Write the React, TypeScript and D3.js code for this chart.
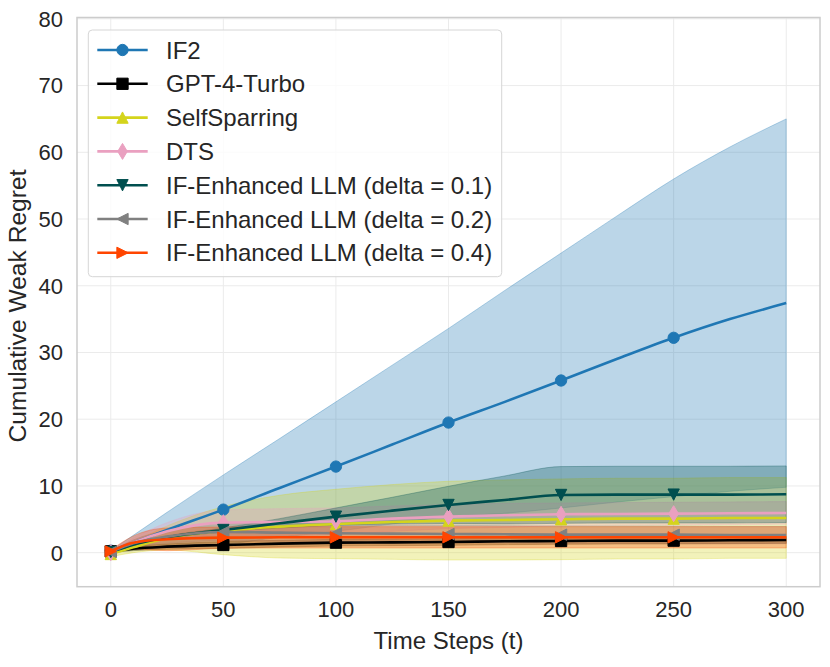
import * as d3 from "d3";

const STEPS = [0, 10, 25, 50, 75, 100, 125, 150, 175, 200, 225, 250, 275, 300];
const MARKER_STEPS = [0, 50, 100, 150, 200, 250];
const X_TICKS = [0, 50, 100, 150, 200, 250, 300];
const Y_TICKS = [0, 10, 20, 30, 40, 50, 60, 70, 80];

const IF2_MEAN = [0.3, 1.5, 3.4, 6.45, 9.7, 12.9, 16.2, 19.5, 22.6, 25.8, 29.05, 32.2, 35.0, 37.4];
const IF2_SD = [0, 1.1, 2.65, 5.2, 7.4, 9.7, 11.9, 14.1, 16.7, 19.1, 21.45, 23.8, 25.8, 27.6];

const GPT_MEAN = [0.2, 0.6, 0.9, 1.15, 1.35, 1.5, 1.55, 1.6, 1.7, 1.75, 1.8, 1.8, 1.85, 1.9];
const GPT_SD = [0.2, 0.3, 0.4, 0.5, 0.5, 0.5, 0.5, 0.5, 0.5, 0.5, 0.5, 0.5, 0.5, 0.5];

const SPARRING_MEAN = [-0.2, 0.8, 2.2, 3.3, 3.9, 4.3, 4.6, 4.8, 4.9, 5.0, 5.1, 5.1, 5.2, 5.2];
const SPARRING_SD = [0.4, 0.8, 1.8, 3.6, 4.7, 5.2, 5.6, 5.9, 6.0, 6.05, 6.05, 6.05, 6.05, 6.05];

const DTS_MEAN = [0.0, 1.5, 3.2, 4.5, 4.6, 4.7, 5.1, 5.4, 5.6, 5.75, 5.8, 5.85, 5.9, 5.95];
const DTS_SD = [0.3, 0.7, 1.3, 1.9, 2.0, 2.0, 1.9, 1.8, 1.8, 1.7, 1.7, 1.7, 1.7, 1.7];

const D01_MEAN = [0.1, 1.2, 2.3, 3.4, 4.4, 5.4, 6.3, 7.15, 7.9, 8.65, 8.7, 8.7, 8.7, 8.75];
const D01_SD = [0, 0.1, 0.2, 0.3, 0.7, 1.3, 2.0, 2.8, 3.6, 4.25, 4.25, 4.25, 4.25, 4.25];

const D02_MEAN = [0.1, 1.4, 2.4, 3.1, 3.0, 2.9, 2.85, 2.8, 2.75, 2.7, 2.7, 2.7, 2.65, 2.65];
const D02_SD = [0.1, 0.5, 1.0, 1.3, 1.3, 1.3, 1.3, 1.3, 1.3, 1.3, 1.3, 1.3, 1.3, 1.3];

const D04_MEAN = [0.2, 1.5, 2.0, 2.25, 2.3, 2.3, 2.3, 2.3, 2.3, 2.3, 2.3, 2.3, 2.3, 2.3];
const D04_SD = [0.2, 1.0, 1.7, 1.6, 1.6, 1.6, 1.6, 1.6, 1.6, 1.6, 1.6, 1.6, 1.6, 1.6];

type Marker = "circle" | "square" | "up" | "thinDiamond" | "down" | "left" | "right";

const SERIES = [
  { name: "IF2", color: "#1f77b4", mean: IF2_MEAN, sd: IF2_SD, marker: "circle" as Marker },
  { name: "GPT-4-Turbo", color: "#000000", mean: GPT_MEAN, sd: GPT_SD, marker: "square" as Marker },
  { name: "SelfSparring", color: "#d4d41c", mean: SPARRING_MEAN, sd: SPARRING_SD, marker: "up" as Marker },
  { name: "DTS", color: "#eaa0c0", mean: DTS_MEAN, sd: DTS_SD, marker: "thinDiamond" as Marker },
  { name: "IF-Enhanced LLM (delta = 0.1)", color: "#004f4f", mean: D01_MEAN, sd: D01_SD, marker: "down" as Marker },
  { name: "IF-Enhanced LLM (delta = 0.2)", color: "#808080", mean: D02_MEAN, sd: D02_SD, marker: "left" as Marker },
  { name: "IF-Enhanced LLM (delta = 0.4)", color: "#ff4500", mean: D04_MEAN, sd: D04_SD, marker: "right" as Marker },
];

const W = 830;
const H = 667;
const PLOT = { left: 77, right: 820, top: 17.5, bottom: 586.7 };
const FONT = "'Liberation Sans', Arial, Helvetica, sans-serif";
const TEXT = "#262626";
const MS = 11.3; // marker size in px

function markerPath(kind: Marker, s: number) {
  const h = s / 2;
  switch (kind) {
    case "circle":
      return d3.symbol(d3.symbolCircle, Math.PI * h * h)() as string;
    case "square":
      return `M${-h},${-h}H${h}V${h}H${-h}Z`;
    case "up":
      return `M0,${-h}L${h},${h}L${-h},${h}Z`;
    case "down":
      return `M0,${h}L${h},${-h}L${-h},${-h}Z`;
    case "left":
      return `M${-h},0L${h},${-h}L${h},${h}Z`;
    case "right":
      return `M${h},0L${-h},${-h}L${-h},${h}Z`;
    case "thinDiamond": {
      const d = (s * Math.SQRT2) / 2;
      const w = 0.6 * d;
      return `M0,${-d}L${w},0L0,${d}L${-w},0Z`;
    }
  }
}

export default function App() {
  const x = d3.scaleLinear().domain([-15, 315]).range([PLOT.left, PLOT.right]);
  const y = d3.scaleLinear().domain([-5.1, 80.2]).range([PLOT.bottom, PLOT.top]);

  const line = d3
    .line<number>()
    .x((_, i) => x(STEPS[i]))
    .y((d) => y(d))
    .curve(d3.curveMonotoneX);

  const band = (mean: number[], sd: number[]) =>
    d3
      .area<number>()
      .x((_, i) => x(STEPS[i]))
      .y0((d, i) => y(d - sd[i]))
      .y1((d, i) => y(d + sd[i]))
      .curve(d3.curveMonotoneX)(mean) as string;

  const legend = { x: 88.3, y: 30, w: 413.4, h: 246.7, row0: 50, rowH: 33.8 };

  return (
    <svg
      width={W}
      height={H}
      style={{ position: "absolute", left: 0, top: 0, background: "#fff" }}
      fontFamily={FONT}
    >
      <defs>
        <clipPath id="plot-clip">
          <rect x={PLOT.left} y={PLOT.top} width={PLOT.right - PLOT.left} height={PLOT.bottom - PLOT.top} />
        </clipPath>
      </defs>

      {/* grid */}
      <g stroke="#ebebeb" strokeWidth={1}>
        {X_TICKS.map((t) => (
          <line key={`gx${t}`} x1={x(t)} x2={x(t)} y1={PLOT.top} y2={PLOT.bottom} />
        ))}
        {Y_TICKS.map((t) => (
          <line key={`gy${t}`} x1={PLOT.left} x2={PLOT.right} y1={y(t)} y2={y(t)} />
        ))}
      </g>

      <g clipPath="url(#plot-clip)">
        {/* bands first, all below the lines */}
        {SERIES.map((s) => (
          <path
            key={`band-${s.name}`}
            d={band(s.mean, s.sd)}
            fill={s.color}
            fillOpacity={0.3}
            stroke={s.color}
            strokeOpacity={0.3}
            strokeWidth={1}
          />
        ))}
        {SERIES.map((s) => (
          <g key={`line-${s.name}`}>
            <path d={line(s.mean) as string} fill="none" stroke={s.color} strokeWidth={2.6} strokeLinejoin="round" />
            {MARKER_STEPS.map((t) => {
              const i = STEPS.indexOf(t);
              return (
                <path
                  key={t}
                  transform={`translate(${x(t)},${y(s.mean[i])})`}
                  d={markerPath(s.marker, MS)}
                  fill={s.color}
                  stroke={s.color}
                  strokeWidth={1}
                />
              );
            })}
          </g>
        ))}
      </g>

      {/* frame */}
      <rect
        x={PLOT.left}
        y={PLOT.top}
        width={PLOT.right - PLOT.left}
        height={PLOT.bottom - PLOT.top}
        fill="none"
        stroke="#cccccc"
        strokeWidth={1.5}
      />

      {/* tick labels */}
      <g fill={TEXT} fontSize={22}>
        {X_TICKS.map((t) => (
          <text key={`xt${t}`} x={x(t)} y={617} textAnchor="middle">
            {t}
          </text>
        ))}
        {Y_TICKS.map((t) => (
          <text key={`yt${t}`} x={63} y={y(t)} dy="0.36em" textAnchor="end">
            {t}
          </text>
        ))}
      </g>

      {/* axis labels */}
      <text x={(PLOT.left + PLOT.right) / 2} y={649} textAnchor="middle" fontSize={24} fill={TEXT}>
        Time Steps (t)
      </text>
      <text
        transform="translate(26,306) rotate(-90)"
        textAnchor="middle"
        fontSize={24.6}
        fill={TEXT}
      >
        Cumulative Weak Regret
      </text>

      {/* legend */}
      <g>
        <rect
          x={legend.x}
          y={legend.y}
          width={legend.w}
          height={legend.h}
          rx={4}
          fill="#ffffff"
          fillOpacity={0.8}
          stroke="#d6d6d6"
          strokeWidth={1}
        />
        {SERIES.map((s, i) => {
          const cy = legend.row0 + i * legend.rowH;
          return (
            <g key={`leg-${s.name}`}>
              <line x1={97.3} x2={147.7} y1={cy} y2={cy} stroke={s.color} strokeWidth={2.6} />
              <path
                transform={`translate(122.5,${cy})`}
                d={markerPath(s.marker, MS)}
                fill={s.color}
                stroke={s.color}
                strokeWidth={1}
              />
              <text x={166} y={cy} dy="0.36em" fontSize={24} fill={TEXT}>
                {s.name}
              </text>
            </g>
          );
        })}
      </g>
    </svg>
  );
}
